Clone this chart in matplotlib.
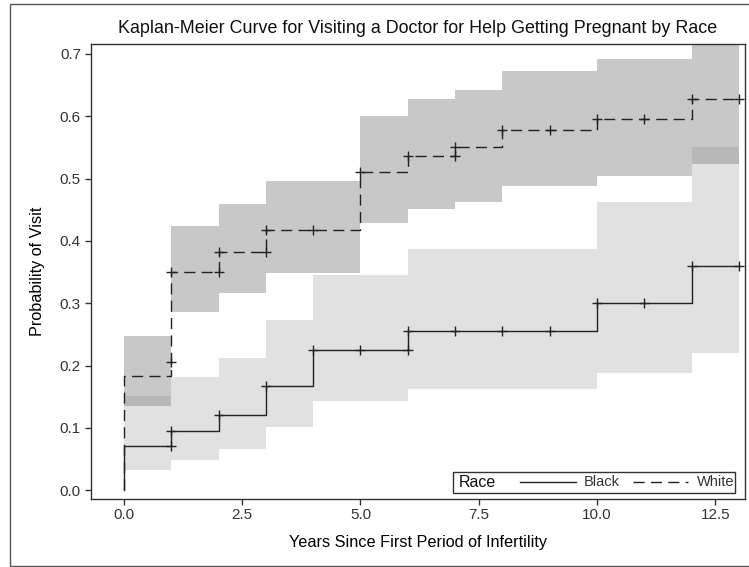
import matplotlib
matplotlib.use('Agg')
import matplotlib.pyplot as plt
from matplotlib.patches import Rectangle
import numpy as np

plt.rcParams.update({
    'font.family': ['Liberation Sans', 'DejaVu Sans'],
    'font.size': 11,
    'axes.edgecolor': '#333333',
    'xtick.color': '#333333', 'ytick.color': '#333333',
    'text.color': '#111111',
})

# ── Kaplan-Meier estimates ──
BLACK_T = [0, 0, 1, 2, 3, 4, 6, 10, 12, 13]
BLACK_S = [0, 0.071, 0.095, 0.121, 0.168, 0.225, 0.255, 0.301, 0.360, 0.360]
WHITE_T = [0, 0, 1, 2, 3, 5, 6, 7, 8, 10, 12, 13]
WHITE_S = [0, 0.1835, 0.350, 0.383, 0.417, 0.511, 0.537, 0.551, 0.578, 0.596, 0.628, 0.628]

# censoring marks
BLACK_CT = [1, 1, 2, 3, 4, 5, 6, 6, 7, 8, 9, 10, 11, 12, 13]
BLACK_CY = [0.071, 0.095, 0.121, 0.168, 0.225, 0.225, 0.225, 0.255, 0.255, 0.255,
            0.255, 0.301, 0.301, 0.360, 0.360]
WHITE_CT = [1, 1, 2, 2, 3, 3, 4, 5, 6, 7, 7, 8, 9, 10, 11, 12, 13]
WHITE_CY = [0.2055, 0.350, 0.350, 0.383, 0.383, 0.417, 0.417, 0.511, 0.537, 0.537,
            0.551, 0.578, 0.578, 0.596, 0.596, 0.628, 0.628]

# confidence bands (step, post)
BLACK_BT = [0, 1, 2, 3, 4, 6, 10, 12, 13]
BLACK_LO = [0.033, 0.049, 0.066, 0.101, 0.143, 0.162, 0.188, 0.220, 0.220]
BLACK_HI = [0.151, 0.181, 0.212, 0.273, 0.345, 0.387, 0.463, 0.551, 0.551]
WHITE_BT = [0, 1, 2, 3, 5, 6, 7, 8, 10, 12, 13]
WHITE_LO = [0.135, 0.286, 0.317, 0.348, 0.429, 0.451, 0.463, 0.488, 0.504, 0.524, 0.524]
WHITE_HI = [0.247, 0.424, 0.459, 0.496, 0.600, 0.627, 0.642, 0.672, 0.692, 0.750, 0.750]

XTICKS = [0.0, 2.5, 5.0, 7.5, 10.0, 12.5]
YTICKS = [0.0, 0.1, 0.2, 0.3, 0.4, 0.5, 0.6, 0.7]

LINE = '#222222'
DASH = (0, (8, 4.5))

fig = plt.figure(figsize=(7.49, 5.67), dpi=100)
ax = fig.add_axes([90.7 / 749, 1 - 498.7 / 567, 654.3 / 749, 454.7 / 567])

ax.fill_between(BLACK_BT, BLACK_LO, BLACK_HI, step='post', color='#e1e1e1',
                linewidth=0, zorder=1)
ax.fill_between(WHITE_BT, WHITE_LO, WHITE_HI, step='post', color='#898989',
                alpha=0.467, linewidth=0, zorder=2)

ax.plot(BLACK_T, BLACK_S, drawstyle='steps-post', color=LINE, lw=1.0, zorder=3)
ax.plot(WHITE_T, WHITE_S, drawstyle='steps-post', color=LINE, lw=1.0,
        linestyle=DASH, zorder=3)
ax.plot(BLACK_CT, BLACK_CY, '+', color=LINE, ms=6.5, mew=1.0, zorder=4)
ax.plot(WHITE_CT, WHITE_CY, '+', color=LINE, ms=6.5, mew=1.0, zorder=4)

ax.set_xlim(-0.704, 13.13)
ax.set_ylim(-0.0135, 0.716)
ax.set_xticks(XTICKS)
ax.set_xticklabels([f'{v:.1f}' for v in XTICKS])
ax.set_yticks(YTICKS)
ax.set_yticklabels([f'{v:.1f}' for v in YTICKS])
ax.tick_params(direction='out', length=4, width=1, labelsize=11, pad=3)
for s in ax.spines.values():
    s.set_linewidth(1.0)

ax.set_xlabel('Years Since First Period of Infertility', fontsize=11.7, labelpad=9)
ax.set_ylabel('Probability of Visit', fontsize=11.7, labelpad=11)
ax.set_title('Kaplan-Meier Curve for Visiting a Doctor for Help Getting Pregnant by Race',
             fontsize=12.85, pad=8)

# legend drawn by hand (SAS style, title inline)
def axx(px):
    return (px - 90.7) / 654.3

def axy(py):
    return (498.7 - py) / 454.7

ly = axy(482.5)
ax.add_patch(Rectangle((axx(452.7), axy(492.7)), axx(734.5) - axx(452.7),
                       axy(472.3) - axy(492.7), transform=ax.transAxes,
                       facecolor='white', edgecolor='#333333', lw=1.0, zorder=5))
ax.text(axx(459), ly, 'Race', transform=ax.transAxes, ha='left', va='center',
        fontsize=11.5, zorder=6)
ax.plot([axx(520), axx(576)], [ly, ly], transform=ax.transAxes, color=LINE, lw=1.0,
        zorder=6)
ax.text(axx(584), ly, 'Black', transform=ax.transAxes, ha='left', va='center',
        fontsize=10.5, color='#333333', zorder=6)
ax.plot([axx(632.7), axx(688)], [ly, ly], transform=ax.transAxes, color=LINE, lw=1.0,
        linestyle=DASH, zorder=6)
ax.text(axx(696.7), ly, 'White', transform=ax.transAxes, ha='left', va='center',
        fontsize=10.5, color='#333333', zorder=6)

# outer frame of the graph area
fig.patches.append(Rectangle((10 / 749, 1 / 567), 1.0, 562 / 567, transform=fig.transFigure,
                             facecolor='none', edgecolor='#555555', lw=1.0))

fig.savefig('out.png', dpi=100, facecolor='white')
